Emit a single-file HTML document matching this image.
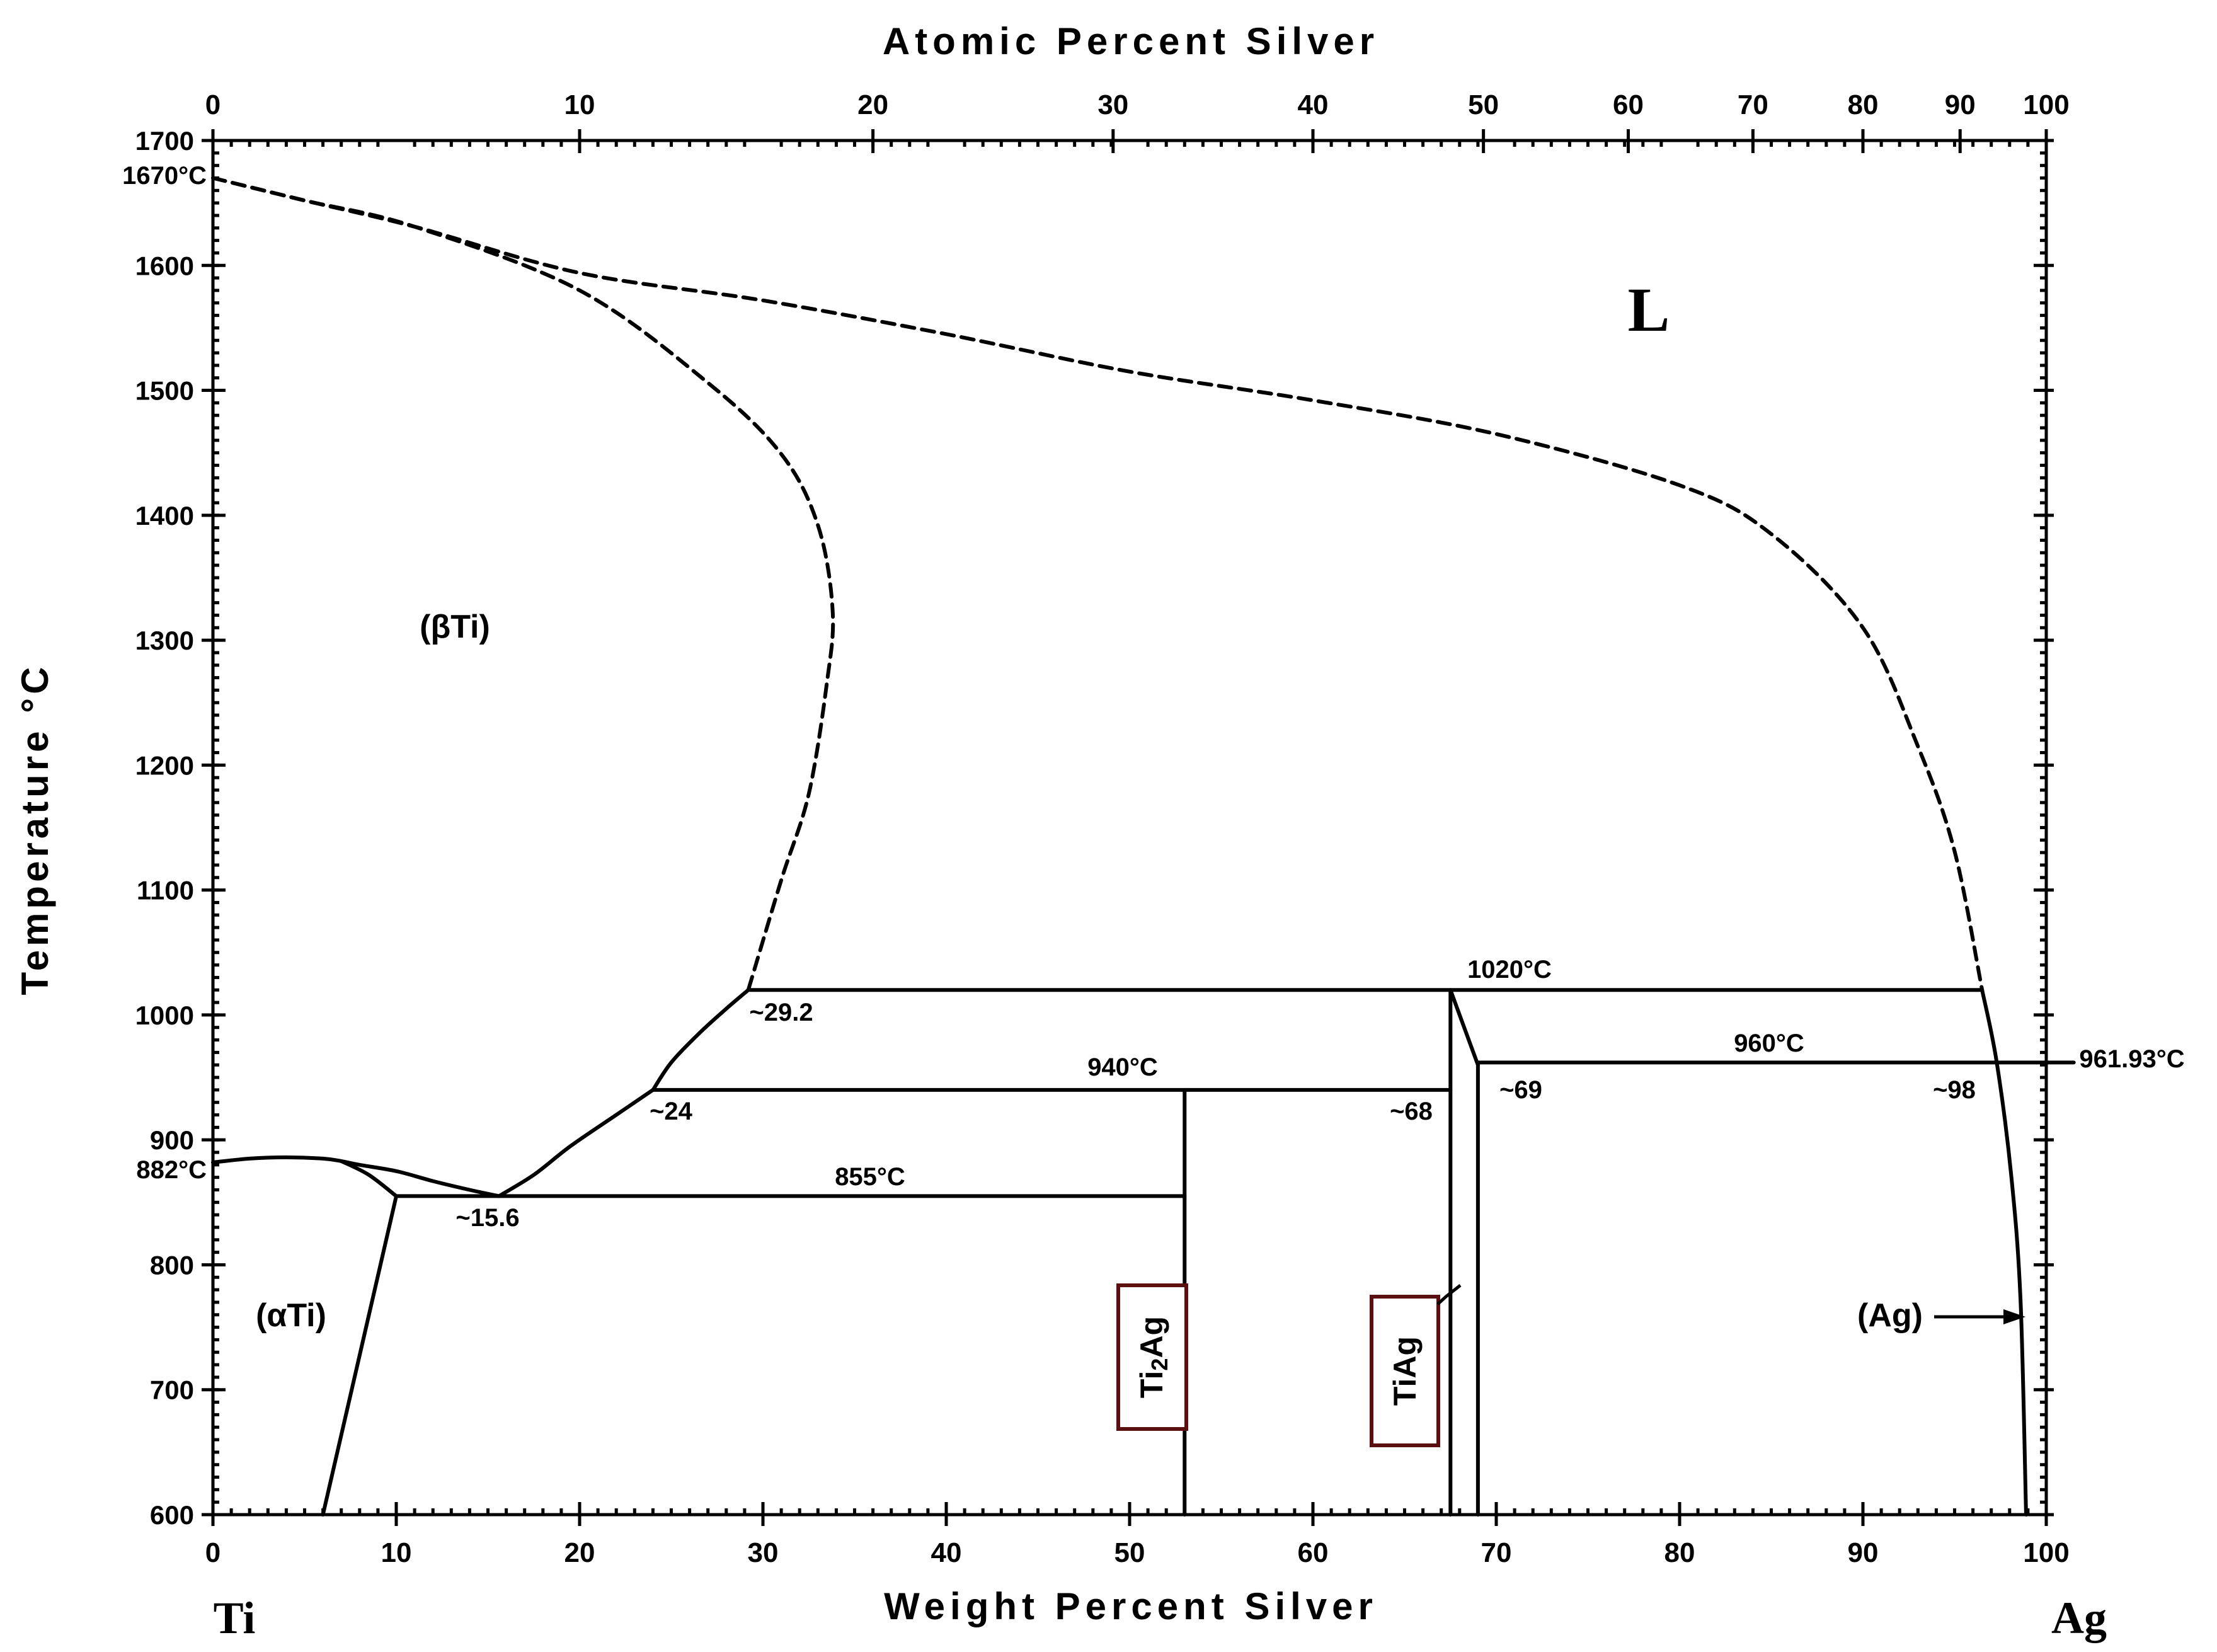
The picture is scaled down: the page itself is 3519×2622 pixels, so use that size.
<!DOCTYPE html>
<html><head><meta charset="utf-8">
<style>
html,body{margin:0;padding:0;background:#fff;}
svg{display:block;}
text{font-family:"Liberation Sans",sans-serif;font-weight:bold;fill:#000;}
.serif{font-family:"Liberation Serif",serif;}
</style></head>
<body>
<svg id="chart" width="3519" height="2622" viewBox="0 0 3519 2622" xmlns="http://www.w3.org/2000/svg"></svg>
<script>
// ---- data ----
const wtTicks = [0,10,20,30,40,50,60,70,80,90,100];
const tempTicks = [600,700,800,900,1000,1100,1200,1300,1400,1500,1600,1700];
const atTickLabels = [0,10,20,30,40,50,60,70,80,90,100];
const atTickWt = [0,20.0,36.0,49.1,60.0,69.3,77.2,84.0,90.0,95.3,100];
// liquidus (dashed)
const liquidusWt = [0,5,11,20,30,40,50,60,70,80,85,90,93,95,96.5];
const liquidusT  = [1670,1652,1631,1594,1572,1545,1515,1492,1465,1424,1385,1310,1215,1131,1020];
// beta solidus (dashed)
const solidusWt = [0,5,11,20,27,31,33,33.8,33.5,32.5,31,29.2];
const solidusT  = [1670,1652,1631,1580,1506,1449,1392,1324,1267,1177,1108,1020];
// solid boundaries
const betaUpperWt = [24,25,26.5,28,29.2]; const betaUpperT = [940,962,985,1005,1020];
const betaLowerWt = [15.6,17.5,19.5,22,24]; const betaLowerT = [855,872,895,920,940];
const alphaTopWt = [0,2,4,6,7,8,10,12,14,15.6]; const alphaTopT = [882,885,886,885,883,880,875,867,860,855];
const alphaBranchWt = [7,8.5,10]; const alphaBranchT = [883,872,855];
const alphaSolvusWt = [10,6]; const alphaSolvusT = [855,600];
const agSolvusWt = [96.5,97.3,98.1,98.6,98.9]; const agSolvusT = [1020,962,870,770,600];
const segments = [ // [wt1,T1,wt2,T2]
 [29.2,1020,96.5,1020],[24,940,67.5,940],[69,961.93,101.5,961.93],[10,855,53,855],
 [53,940,53,600],[67.5,1020,67.5,600],[67.5,1020,69,960],[69,960,69,600]
];
// ---- axes ----
const X0=338,X1=3248,Y0=2404,Y1=223;
const sx = w => X0 + (X1-X0)*w/100;
const sy = t => Y0 - (Y0-Y1)*(t-600)/1100;
const svg=document.getElementById('chart');
const NS='http://www.w3.org/2000/svg';
function mk(tag,attrs,parent){const e=document.createElementNS(NS,tag);for(const k in attrs)e.setAttribute(k,attrs[k]);(parent||svg).appendChild(e);return e;}
function txt(s,x,y,size,anchor,name,extra){const e=mk('text',Object.assign({x:x,y:y,'font-size':size,'text-anchor':anchor||'start'},extra||{}));e.textContent=s;


return e;}
function smoothPath(ws,ts){const P=ws.map((w,i)=>[sx(w),sy(ts[i])]);
 let d='M'+P[0][0].toFixed(1)+','+P[0][1].toFixed(1);
 for(let i=0;i<P.length-1;i++){const p0=P[Math.max(0,i-1)],p1=P[i],p2=P[i+1],p3=P[Math.min(P.length-1,i+2)];
  const c1=[p1[0]+(p2[0]-p0[0])/6,p1[1]+(p2[1]-p0[1])/6],c2=[p2[0]-(p3[0]-p1[0])/6,p2[1]-(p3[1]-p1[1])/6];
  d+=' C'+c1.map(v=>v.toFixed(1)).join(',')+' '+c2.map(v=>v.toFixed(1)).join(',')+' '+p2.map(v=>v.toFixed(1)).join(',');}
 return d;}
function poly(ws,ts,name,dash){
const e=mk('path',{d:smoothPath(ws,ts),fill:'none',stroke:'#000','stroke-width':6,'stroke-linejoin':'round','stroke-linecap':'round'});
if(dash)e.setAttribute('stroke-dasharray','20 12');


return e;}
// frame
const fr=mk('rect',{x:X0,y:Y1,width:X1-X0,height:Y0-Y1,fill:'none',stroke:'#000','stroke-width':5});


// minor ticks bottom/top every 1 wt%
for(let w=0;w<=100;w++){const x=sx(w);const L=(w%10===0)?0:10;
 if(L){const a=mk('line',{x1:x,y1:Y0,x2:x,y2:Y0-L,stroke:'#000','stroke-width':5});
 const b=mk('line',{x1:x,y1:Y1,x2:x,y2:Y1+L,stroke:'#000','stroke-width':5});}}
// minor ticks left/right every 10 C
for(let t=600;t<=1700;t+=10){const y=sy(t);
 const a=mk('line',{x1:X0,y1:y,x2:X0+10,y2:y,stroke:'#000','stroke-width':5});
 const b=mk('line',{x1:X1,y1:y,x2:X1-10,y2:y,stroke:'#000','stroke-width':5});}
// bottom major ticks
wtTicks.forEach(w=>{const x=sx(w);
 const l=mk('line',{x1:x,y1:Y0+18,x2:x,y2:Y0-20,stroke:'#000','stroke-width':5});
 
 txt(String(w),x,Y0+75,44,'middle','x-tick-label');});
// top atomic ticks
atTickWt.forEach((w,i)=>{const x=sx(w);
 const l=mk('line',{x1:x,y1:Y1-18,x2:x,y2:Y1+20,stroke:'#000','stroke-width':5});
 
 txt(String(atTickLabels[i]),x,Y1-42,44,'middle','top-tick-label');});
// left ticks
tempTicks.forEach(t=>{const y=sy(t);
 const l=mk('line',{x1:X0-18,y1:y,x2:X0+20,y2:y,stroke:'#000','stroke-width':5});
 
 const r=mk('line',{x1:X1-20,y1:y,x2:X1+12,y2:y,stroke:'#000','stroke-width':5});
 
 txt(String(t),X0-30,y+15,42,'end','y-tick-label');});
// axis titles
txt('Atomic Percent Silver',1795,86,60,'middle','top-axis-title',{'letter-spacing':'8','font-family':'Liberation Mono, monospace'});
txt('Weight Percent Silver',1795,2570,60,'middle','x-axis-title',{'letter-spacing':'8','font-family':'Liberation Mono, monospace'});
txt('Temperature °C',0,0,60,'middle','y-axis-title',{'letter-spacing':'6','font-family':'Liberation Mono, monospace',transform:'translate(76,1316) rotate(-90)'});
txt('Ti',372,2592,72,'middle','ti-label',{'class':'serif'});
txt('Ag',3300,2592,72,'middle','ag-label',{'class':'serif'});
txt('L',2617,525,100,'middle','liquid-region-label',{'class':'serif','font-weight':'normal'});
// curves
poly(liquidusWt,liquidusT,'liquidus-line',true);
poly(solidusWt,solidusT,'beta-solidus-line',true);
poly(betaUpperWt,betaUpperT,'beta-boundary-upper');
poly(betaLowerWt,betaLowerT,'beta-boundary-lower');
poly(alphaTopWt,alphaTopT,'alpha-beta-transus');
poly(alphaBranchWt,alphaBranchT,'alpha-transus-branch');
poly(alphaSolvusWt,alphaSolvusT,'alpha-solvus');
poly(agSolvusWt,agSolvusT,'ag-solvus');
segments.forEach(s=>{poly([s[0],s[2]],[s[1],s[3]],'phase-boundary-segment');});
// (Ag) arrow
const ar=mk('line',{x1:3070,y1:2090,x2:3205,y2:2090,stroke:'#000','stroke-width':5});

const ah=mk('polygon',{points:'3215,2090 3180,2078 3180,2102',fill:'#000'});

// region & annotation labels
txt('(βTi)',722,1012,52,'middle','beta-ti-label');
txt('(αTi)',462,2105,52,'middle','alpha-ti-label');
txt('(Ag)',3000,2105,52,'middle','ag-phase-label');
txt('1670°C',328,292,40,'end','melting-ti-label');
txt('882°C',328,1870,40,'end','transus-ti-label');
txt('~29.2',1240,1620,40,'middle','comp-29-2-label');
txt('~24',1065,1777,40,'middle','comp-24-label');
txt('~15.6',774,1946,40,'middle','comp-15-6-label');
txt('940°C',1782,1707,40,'middle','t940-label');
txt('855°C',1381,1881,40,'middle','t855-label');
txt('1020°C',2396,1552,40,'middle','t1020-label');
txt('~68',2240,1777,40,'middle','comp-68-label');
txt('~69',2414,1743,40,'middle','comp-69-label');
txt('960°C',2808,1669,40,'middle','t960-label');
txt('~98',3102,1743,40,'middle','comp-98-label');
txt('961.93°C',3384,1694,40,'middle','melting-ag-label');
// compound boxes
const b1=mk('rect',{x:1775,y:2040,width:108,height:228,fill:'#fff',stroke:'#5a1010','stroke-width':6});

const t1=txt('',0,0,50,'middle','ti2ag-label',{transform:'translate(1845,2154) rotate(-90)'});
t1.innerHTML='Ti<tspan font-size="36" dy="8">2</tspan><tspan dy="-8">Ag</tspan>';
const b2=mk('rect',{x:2177,y:2058,width:106,height:236,fill:'#fff',stroke:'#5a1010','stroke-width':6});

txt('TiAg',0,0,50,'middle','tiag-label',{transform:'translate(2247,2176) rotate(-90)'});
const tk=mk('polyline',{points:'2282,2070 2295,2058 2318,2040',fill:'none',stroke:'#000','stroke-width':5});

</script>
</body></html>
